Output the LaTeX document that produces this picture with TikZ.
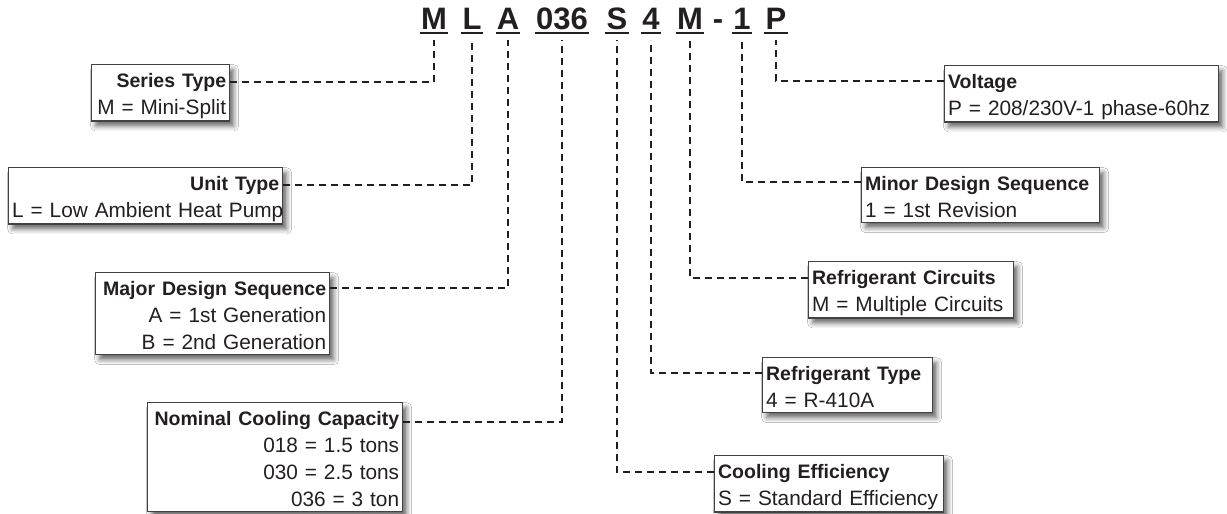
\documentclass[tikz,border=0pt]{standalone}
\usepackage{fontspec}
\setmainfont{Liberation Sans}
\usetikzlibrary{calc,shadows.blur}
\definecolor{ink}{HTML}{231F20}
\newcommand\hd[1]{\rule{0pt}{21pt}\mbox{\fontsize{19.5}{27}\selectfont\bfseries #1}}
\newcommand\bl[1]{\mbox{#1}}
\newcommand\lb{\rule[-3pt]{0pt}{3pt}}
\begin{document}
\begin{tikzpicture}[x=1pt,y=-1pt,
  code/.style={font=\fontsize{31}{31}\selectfont\bfseries, text=ink, inner sep=0pt, anchor=base},
  ul/.style={line width=2.2pt, draw=ink},
  conn/.style={draw=ink, line width=2.2pt, dash pattern=on 7pt off 5pt},
  infobox/.style={draw=ink!85, line width=1.3pt, fill=white, inner xsep=3.5pt, inner ysep=2pt,
    font=\fontsize{20.8}{27}\selectfont, text=ink, anchor=north west,
    blur shadow={shadow xshift=4pt, shadow yshift=-5pt, shadow blur radius=5pt, shadow opacity=60}},
]
\useasboundingbox (0,0) rectangle (1227,514);
\fill[white] (0,0) rectangle (1227,514);

% code letters
\node[code] (cM1) at (434,29) {M};
\node[code] (cL)  at (472,29) {L};
\node[code] (cA)  at (508,29) {A};
\node[code] (cN)  at (562,29) {036};
\node[code] (cS)  at (617,29) {S};
\node[code] (c4)  at (651,29) {4};
\node[code] (cM2) at (690,29) {M};
\node[code] (cD)  at (718,29) {-};
\node[code] (c1)  at (742,29) {1};
\node[code] (cP)  at (776,29) {P};
\foreach \n in {cM1,cL,cA,cN,cS,c4,cM2,c1,cP}{
  \draw[ul] ($(\n.base west)+(-1,4)$) -- ($(\n.base east)+(1,4)$);
  \coordinate (t\n) at ($(\n.base)+(0,11)$);
}

% boxes
\node[infobox, text width=131pt, align=right] (bSeries) at (91,64)
  {\hd{Series Type}\\\bl{M = Mini-Split}\lb};
\node[infobox, text width=267pt, align=right] (bUnit) at (8,167)
  {\hd{Unit Type}\\\bl{L = Low Ambient Heat Pump}\lb};
\node[infobox, text width=227pt, align=right] (bMajor) at (95,272)
  {\hd{Major Design Sequence}\\\bl{A = 1st Generation}\\\bl{B = 2nd Generation}\lb};
\node[infobox, text width=248pt, align=right] (bNom) at (147,402)
  {\hd{Nominal Cooling Capacity}\\\bl{018 = 1.5 tons}\\\bl{030 = 2.5 tons}\\\bl{036 = 3 ton}\lb};
\node[infobox, text width=267pt, align=left] (bVolt) at (944,65)
  {\hd{Voltage}\\\bl{P = 208/230V-1 phase-60hz}\lb};
\node[infobox, text width=231pt, align=left] (bMinor) at (861,167)
  {\hd{Minor Design Sequence}\\\bl{1 = 1st Revision}\lb};
\node[infobox, text width=198pt, align=left] (bCirc) at (808,261)
  {\hd{Refrigerant Circuits}\\\bl{M = Multiple Circuits}\lb};
\node[infobox, text width=163pt, align=left] (bRef) at (762,357)
  {\hd{Refrigerant Type}\\\bl{4 = R-410A}\lb};
\node[infobox, text width=222pt, align=left] (bEff) at (714,455)
  {\hd{Cooling Efficiency}\\\bl{S = Standard Efficiency}\lb};

% connectors
\draw[conn] ($(bSeries.north east)+(0,18)$) -| (tcM1);
\draw[conn] ($(bUnit.north east)+(0,18)$) -| (tcL);
\draw[conn] ($(bMajor.north east)+(0,16)$) -| (tcA);
\draw[conn] ($(bNom.north east)+(0,20)$) -| (tcN);
\draw[conn] ($(bVolt.north west)+(0,16)$) -| (tcP);
\draw[conn] ($(bMinor.north west)+(0,15)$) -| (tc1);
\draw[conn] ($(bCirc.north west)+(0,17)$) -| (tcM2);
\draw[conn] ($(bRef.north west)+(0,16)$) -| (tc4);
\draw[conn] ($(bEff.north west)+(0,17)$) -| (tcS);
\end{tikzpicture}
\end{document}
